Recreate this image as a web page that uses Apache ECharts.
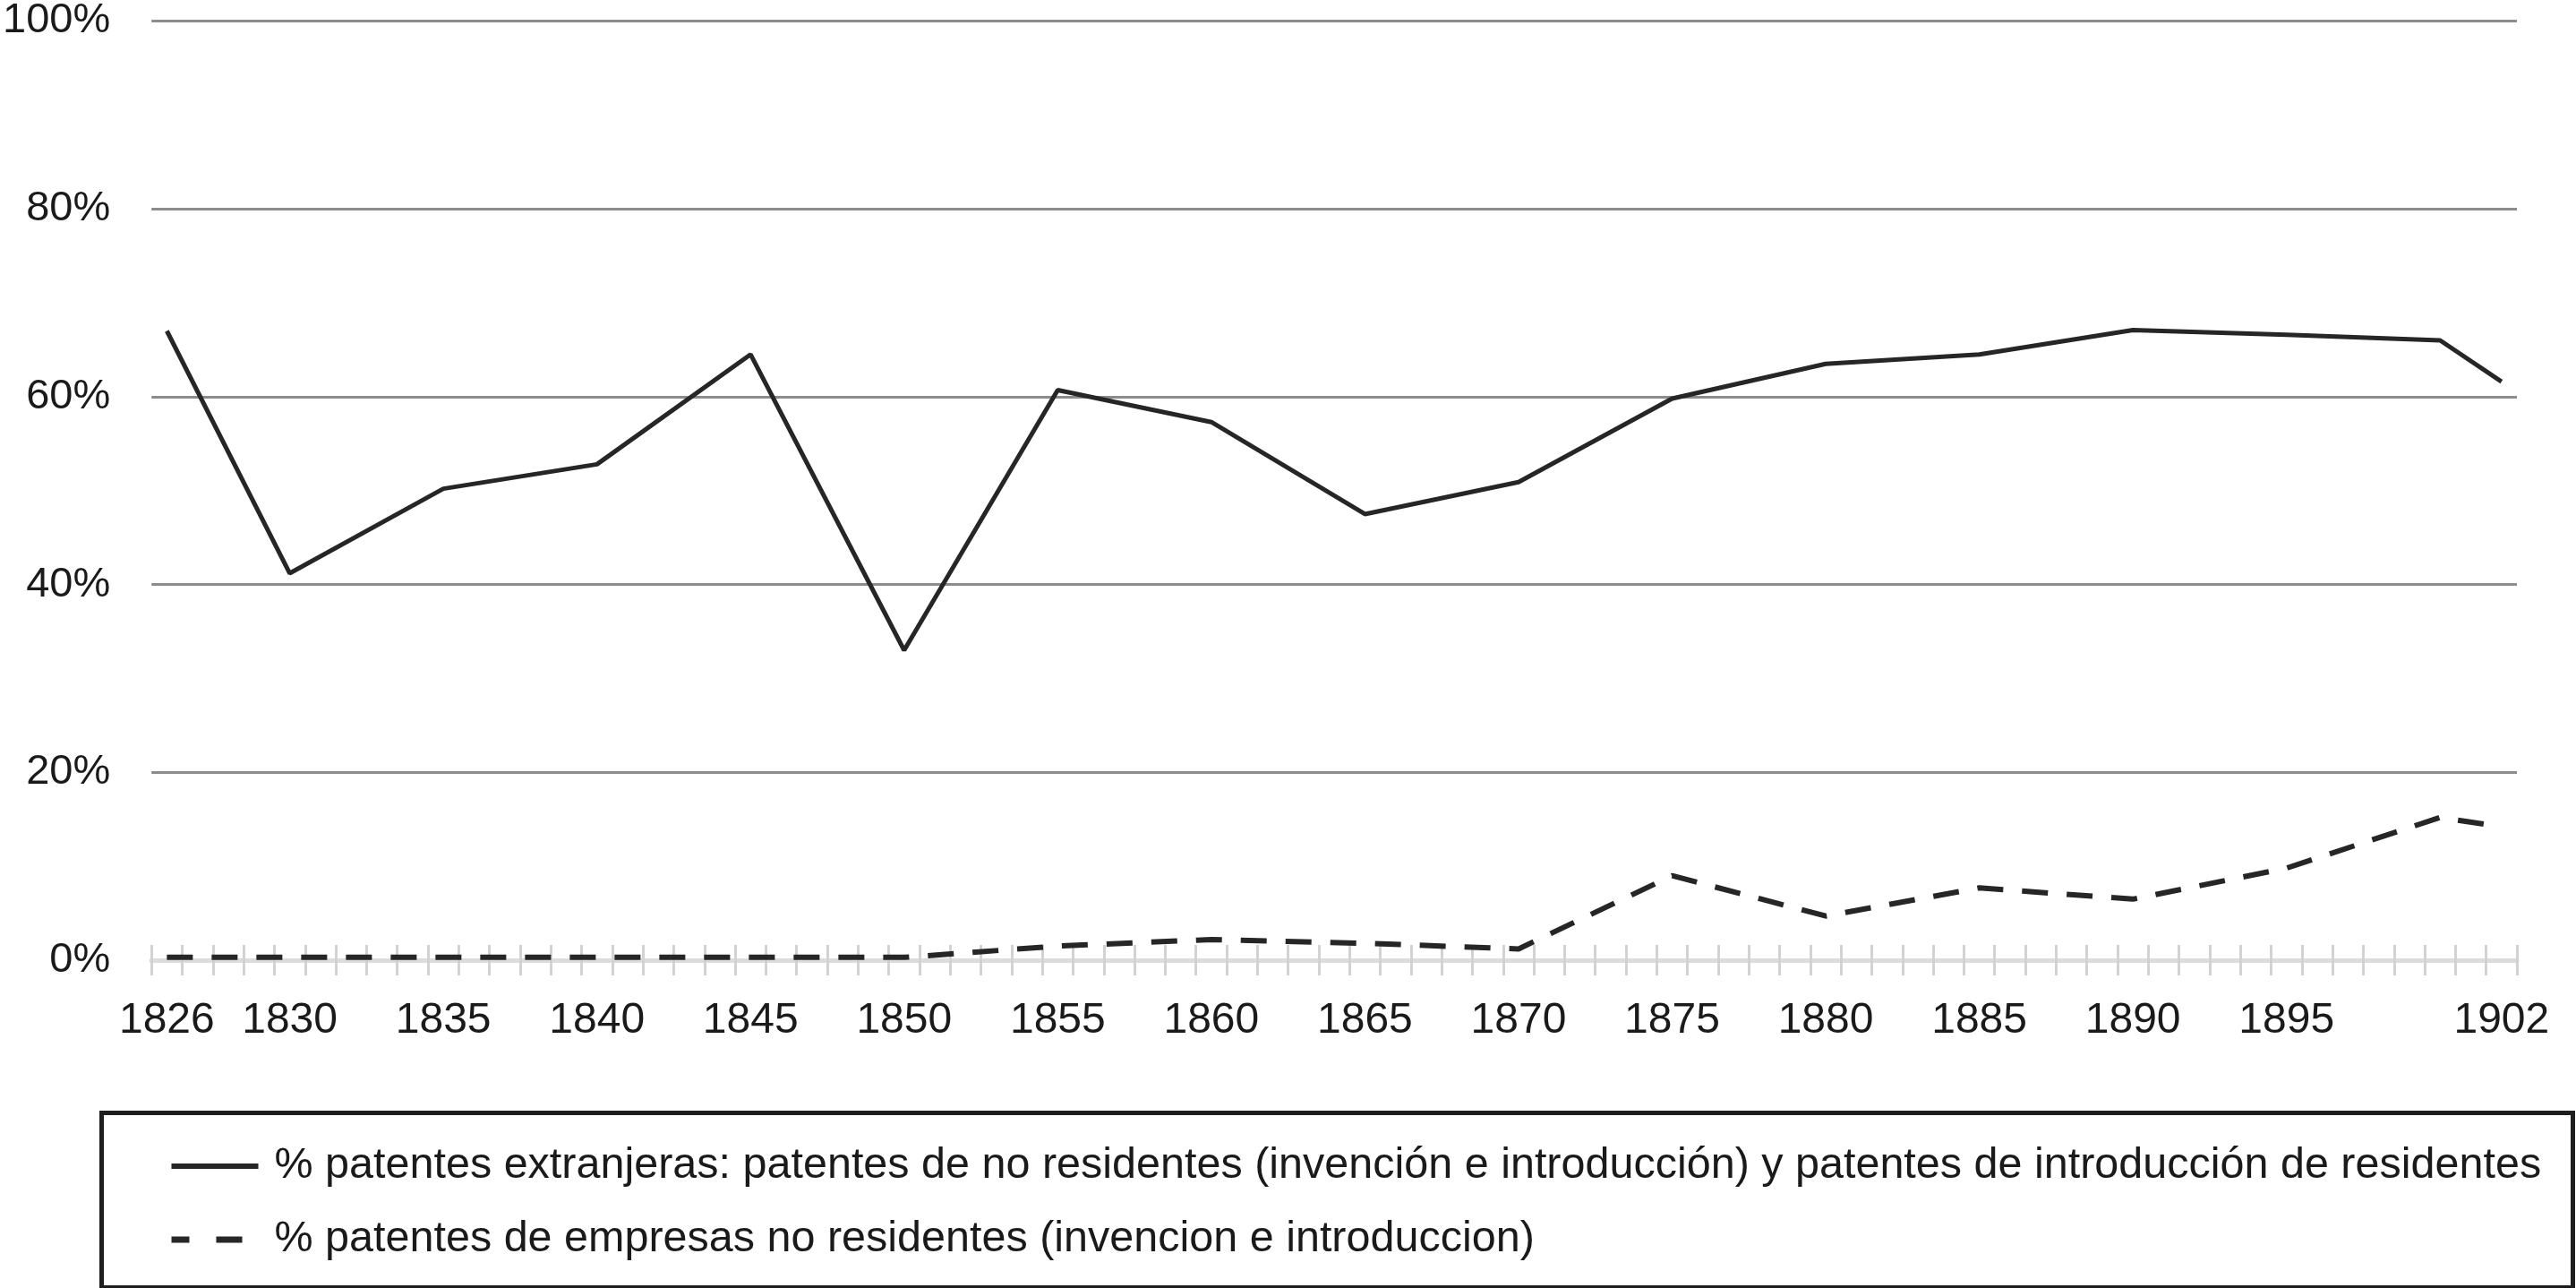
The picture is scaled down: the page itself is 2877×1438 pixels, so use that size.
<!DOCTYPE html>
<html>
<head>
<meta charset="utf-8">
<script src="https://cdn.jsdelivr.net/npm/echarts@6/dist/echarts.min.js"></script>
<style>
html,body{margin:0;padding:0;background:#fff;}
#chart{width:2877px;height:1438px;}
</style>
</head>
<body>
<div id="chart"></div>
<script>
// Axis range (one category per year)
const firstYear = 1826;
const lastYear = 1902;
// Years that carry a tick label
const labelYears = [1826, 1830, 1835, 1840, 1845, 1850, 1855, 1860, 1865, 1870, 1875, 1880, 1885, 1890, 1895, 1902];
// Observed points
const pointYears = [1826, 1830, 1835, 1840, 1845, 1850, 1855, 1860, 1865, 1870, 1875, 1880, 1885, 1890, 1895, 1900, 1902];
const foreignShare = [67.0, 41.2, 50.2, 52.8, 64.5, 33.0, 60.7, 57.3, 47.5, 50.9, 59.8, 63.5, 64.5, 67.1, 66.6, 66.0, 61.6];
const companyShare = [0.3, 0.3, 0.3, 0.3, 0.3, 0.3, 1.5, 2.2, 1.8, 1.2, 9.0, 4.7, 7.7, 6.5, 9.8, 15.2, 14.2];
const seriesNames = [
  '% patentes extranjeras: patentes de no residentes (invención e introducción) y patentes de introducción de residentes',
  '% patentes de empresas no residentes (invencion e introduccion)'
];

const categories = [];
for (let y = firstYear; y <= lastYear; y++) categories.push(String(y));
const pairs = vals => pointYears.map((y, i) => [String(y), vals[i]]);

const FONT = '"Liberation Sans", Arial, Helvetica, sans-serif';
const hiddenSymbol = { color: 'rgba(0,0,0,0)', borderWidth: 0, opacity: 0 };
const chart = echarts.init(document.getElementById('chart'));
chart.setOption({
  backgroundColor: '#ffffff',
  animation: false,
  grid: { left: 168, right: 66, top: 23, bottom: 366, containLabel: false },
  xAxis: [
    {
      type: 'category', data: categories, boundaryGap: true,
      axisLine: { show: true, lineStyle: { color: '#dcdcdc', width: 5 } },
      axisTick: { show: true, interval: 0, length: 17, inside: false, lineStyle: { color: '#d2d2d2', width: 3 } },
      axisLabel: {
        interval: (idx, val) => labelYears.indexOf(Number(val)) >= 0,
        margin: 44, color: '#1a1a1a', fontSize: 48, fontFamily: FONT
      },
      splitLine: { show: false }
    },
    {
      type: 'category', data: categories, boundaryGap: true, position: 'bottom',
      axisLine: { show: false },
      axisTick: { show: true, interval: 0, length: 17, inside: true, lineStyle: { color: '#d2d2d2', width: 3 } },
      axisLabel: { show: false },
      splitLine: { show: false }
    }
  ],
  yAxis: {
    type: 'value', min: 0, max: 100, interval: 20,
    axisLine: { show: false }, axisTick: { show: false },
    axisLabel: { formatter: '{value}%', margin: 46, color: '#1a1a1a', fontSize: 47, fontFamily: FONT },
    splitLine: { show: true, lineStyle: { color: ['rgba(0,0,0,0)', '#8c8c8c', '#8c8c8c', '#8c8c8c', '#8c8c8c', '#8c8c8c'], width: 3 } }
  },
  legend: {
    orient: 'vertical', left: 188, top: 1277, padding: 0,
    itemWidth: 97, itemHeight: 14, itemGap: 32,
    textStyle: { fontSize: 48.5, lineHeight: 50, color: '#1a1a1a', fontFamily: FONT, padding: [0, 0, 0, 13] },
    data: [
      { name: seriesNames[0], itemStyle: hiddenSymbol, lineStyle: { type: 'solid', width: 6, color: '#262626' } },
      { name: seriesNames[1], itemStyle: hiddenSymbol, lineStyle: { type: [20, 30, 29, 100], width: 7, color: '#262626' } }
    ]
  },
  graphic: [{
    type: 'rect', left: 111, top: 1240, silent: true,
    shape: { width: 2760, height: 195 },
    style: { fill: 'none', stroke: '#1e1e1e', lineWidth: 5 }
  }],
  series: [
    {
      name: seriesNames[0], type: 'line', data: pairs(foreignShare),
      showSymbol: false, symbol: 'none', connectNulls: true,
      lineStyle: { color: '#262626', width: 5 }, itemStyle: { color: '#262626' }
    },
    {
      name: seriesNames[1], type: 'line', data: pairs(companyShare),
      showSymbol: false, symbol: 'none', connectNulls: true,
      lineStyle: { color: '#262626', width: 6, type: [29, 21] }, itemStyle: { color: '#262626' }
    }
  ]
});
</script>
</body>
</html>
